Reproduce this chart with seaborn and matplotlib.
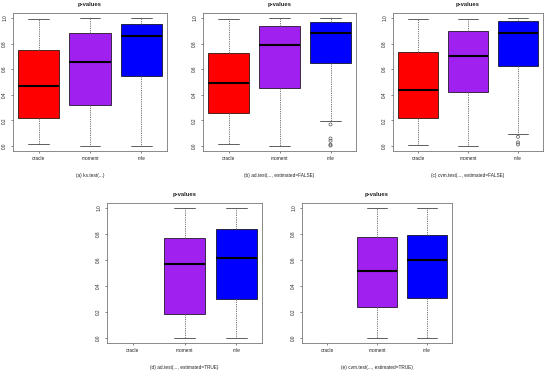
import numpy as np
import pandas as pd
import matplotlib
matplotlib.use("Agg")
import matplotlib.pyplot as plt
import seaborn as sns

categories = ["oracle", "moment", "mle"]
box_colors = {"oracle": "#FF0000", "moment": "#A020F0", "mle": "#0000FF"}
captions = ["(a) ks.test(...)",
            "(b) ad.test(..., estimated=FALSE)",
            "(c) cvm.test(..., estimated=FALSE)",
            "(d) ad.test(..., estimated=TRUE)",
            "(e) cvm.test(..., estimated=TRUE)"]
yticks = [0.0, 0.2, 0.4, 0.6, 0.8, 1.0]
ytick_labels = ["0.0", "0.2", "0.4", "0.6", "0.8", "1.0"]

# five-number summaries: lower whisker, Q1, median, Q3, upper whisker
a_oracle = [0.013, 0.22, 0.47, 0.75, 0.99]
a_moment = [0.0, 0.32, 0.655, 0.88, 1.0]
a_mle = [0.0, 0.547, 0.859, 0.955, 1.0]

b_oracle = [0.013, 0.26, 0.495, 0.728, 0.995]
b_moment = [0.0, 0.453, 0.788, 0.94, 1.0]
b_mle = [0.196, 0.652, 0.885, 0.97, 1.0]
b_mle_out = [0.168, 0.058, 0.04, 0.01, 0.003]

c_oracle = [0.01, 0.22, 0.437, 0.733, 0.992]
c_moment = [0.0, 0.419, 0.704, 0.903, 0.995]
c_mle = [0.093, 0.623, 0.88, 0.976, 1.0]
c_mle_out = [0.071, 0.027, 0.011]

d_moment = [0.0, 0.183, 0.568, 0.77, 1.0]
d_mle = [0.0, 0.296, 0.618, 0.838, 1.0]

e_moment = [0.0, 0.236, 0.513, 0.775, 1.0]
e_mle = [0.0, 0.306, 0.604, 0.797, 1.0]

panels = [
    ({"oracle": a_oracle, "moment": a_moment, "mle": a_mle}, {}),
    ({"oracle": b_oracle, "moment": b_moment, "mle": b_mle}, {"mle": b_mle_out}),
    ({"oracle": c_oracle, "moment": c_moment, "mle": c_mle}, {"mle": c_mle_out}),
    ({"moment": d_moment, "mle": d_mle}, {}),
    ({"moment": e_moment, "mle": e_mle}, {}),
]

sns.set_theme(style="white")
plt.rcParams["font.family"] = ["Liberation Sans", "DejaVu Sans"]

W, H = 550, 371
fig = plt.figure(figsize=(W / 100, H / 100), dpi=100)

# axes frames in pixel coords: left, right, top, bottom
frames = [(13, 167, 13, 151), (203, 356, 13, 151), (393, 543, 13, 151),
          (107, 262, 203, 343), (302, 452, 203, 343)]

for (boxes, outs), cap, (l, r, t, b) in zip(panels, captions, frames):
    ax = fig.add_axes([l / W, 1 - b / H, (r - l) / W, (b - t) / H])
    df = pd.DataFrame([(k, v) for k, vals in boxes.items() for v in vals],
                      columns=["method", "p"])
    sns.boxplot(data=df, x="method", y="p", order=categories,
                hue="method", hue_order=categories, palette=box_colors,
                saturation=1, legend=False, whis=(0, 100), width=0.8,
                showfliers=False, linecolor="black", linewidth=0.5,
                boxprops=dict(edgecolor="black", linewidth=0.5),
                medianprops=dict(color="black", linewidth=1.5),
                whiskerprops=dict(color="#666666", linewidth=0.6,
                                  linestyle=(0, (1.5, 1.2))),
                capprops=dict(color="#444444", linewidth=0.6),
                ax=ax)
    if outs:
        odf = pd.DataFrame([(k, v) for k, vals in outs.items() for v in vals],
                           columns=["method", "p"])
        n0 = len(ax.collections)
        sns.stripplot(data=odf, x="method", y="p", order=categories,
                      jitter=False, color="#555555", size=2.2, ax=ax)
        for coll in ax.collections[n0:]:
            coll.set_facecolor("none")
            coll.set_edgecolor("#555555")
            coll.set_linewidth(0.5)
    ax.set_xlim(-0.5, 2.5)
    ax.set_ylim(-0.04, 1.04)
    ax.set_xlabel("")
    ax.set_ylabel("")
    ax.set_yticks(yticks)
    ax.set_yticklabels(ytick_labels, rotation=90, va="center")
    ax.set_xticks(range(len(categories)))
    ax.set_xticklabels(categories)
    ax.tick_params(axis="both", length=1.6, width=0.5, color="#555555",
                   labelsize=3.4, labelcolor="#222222")
    ax.tick_params(axis="y", pad=2.5, left=True)
    ax.tick_params(axis="x", pad=2.2, bottom=True)
    for sp in ax.spines.values():
        sp.set_visible(True)
        sp.set_color("#777777")
        sp.set_linewidth(0.6)
    ax.set_title("p-values", fontsize=4.2, fontweight="bold", pad=5,
                 color="#222222")
    ax.text(0.5, -0.175, cap, transform=ax.transAxes, ha="center",
            va="center", fontsize=3.4, color="#222222")

fig.savefig("out.png", dpi=100, facecolor="white")
